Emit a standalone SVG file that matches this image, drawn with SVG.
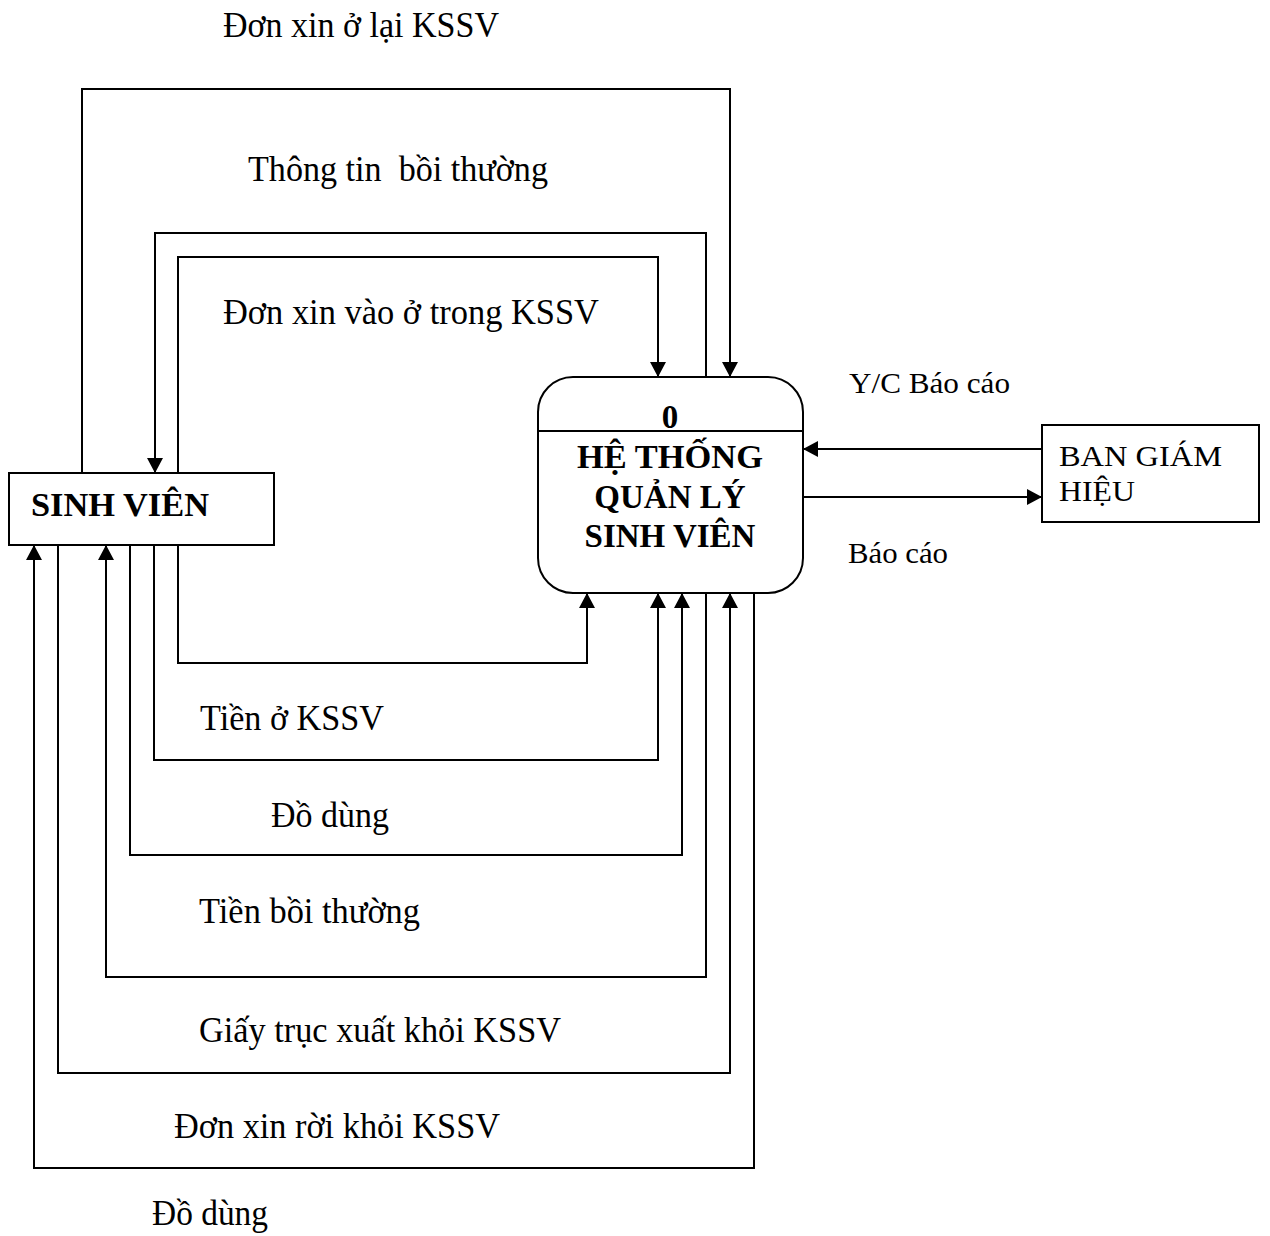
<svg xmlns="http://www.w3.org/2000/svg" width="1270" height="1236" viewBox="0 0 1270 1236">
  <style>
    .line { fill: none; stroke: #000; stroke-width: 2; }
    .box { fill: #fff; stroke: #000; stroke-width: 2; }
    .lbl { font-family: "Liberation Serif", "Times New Roman", serif; font-size: 35px; fill: #000; }
    .lbl-sm { font-family: "Liberation Serif", "Times New Roman", serif; font-size: 30px; fill: #000; }
    .title { font-family: "Liberation Serif", "Times New Roman", serif; font-size: 33px; font-weight: bold; fill: #000; }
  </style>
  <defs>
    <marker id="arrow" markerUnits="userSpaceOnUse" markerWidth="15" markerHeight="16" viewBox="0 0 15 16" refX="15" refY="8" orient="auto">
      <path d="M0,0 L15,8 L0,16 z" fill="#000"/>
    </marker>
  </defs>

  <!-- data flows -->
  <g id="connectors">
    <!-- top flows -->
    <polyline class="line" points="82,473 82,89 730,89 730,377" marker-end="url(#arrow)"/>
    <polyline class="line" points="706,377 706,233 155,233 155,473" marker-end="url(#arrow)"/>
    <polyline class="line" points="178,473 178,257 658,257 658,377" marker-end="url(#arrow)"/>
    <!-- bottom flows -->
    <polyline class="line" points="178,545 178,663 587,663 587,593" marker-end="url(#arrow)"/>
    <polyline class="line" points="154,545 154,760 658,760 658,593" marker-end="url(#arrow)"/>
    <polyline class="line" points="130,545 130,855 682,855 682,593" marker-end="url(#arrow)"/>
    <polyline class="line" points="706,593 706,977 106,977 106,545" marker-end="url(#arrow)"/>
    <polyline class="line" points="58,545 58,1073 730,1073 730,593" marker-end="url(#arrow)"/>
    <polyline class="line" points="754,593 754,1168 34,1168 34,545" marker-end="url(#arrow)"/>
    <!-- management flows -->
    <line class="line" x1="1042" y1="449" x2="803" y2="449" marker-end="url(#arrow)"/>
    <line class="line" x1="803" y1="497" x2="1042" y2="497" marker-end="url(#arrow)"/>
  </g>

  <!-- flow labels -->
  <g id="labels">
    <text class="lbl" x="223" y="37" textLength="276" lengthAdjust="spacingAndGlyphs">Đơn xin ở lại KSSV</text>
    <text class="lbl" x="248" y="181" xml:space="preserve" textLength="300" lengthAdjust="spacingAndGlyphs">Thông tin  bồi thường</text>
    <text class="lbl" x="223" y="324" textLength="376" lengthAdjust="spacingAndGlyphs">Đơn xin vào ở trong KSSV</text>
    <text class="lbl" x="200" y="730" textLength="184" lengthAdjust="spacingAndGlyphs">Tiền ở KSSV</text>
    <text class="lbl" x="271" y="827" textLength="118" lengthAdjust="spacingAndGlyphs">Đồ dùng</text>
    <text class="lbl" x="199" y="923" textLength="221" lengthAdjust="spacingAndGlyphs">Tiền bồi thường</text>
    <text class="lbl" x="199" y="1042" textLength="362" lengthAdjust="spacingAndGlyphs">Giấy trục xuất khỏi KSSV</text>
    <text class="lbl" x="174" y="1138" textLength="326" lengthAdjust="spacingAndGlyphs">Đơn xin rời khỏi KSSV</text>
    <text class="lbl" x="152" y="1225" textLength="116" lengthAdjust="spacingAndGlyphs">Đồ dùng</text>
    <text class="lbl-sm" x="849" y="393" textLength="161" lengthAdjust="spacingAndGlyphs">Y/C Báo cáo</text>
    <text class="lbl-sm" x="848" y="563" textLength="100" lengthAdjust="spacingAndGlyphs">Báo cáo</text>
  </g>

  <!-- external entity: students -->
  <g id="sinh-vien">
    <rect class="box" x="9" y="473" width="265" height="72"/>
    <text class="title" x="31" y="516" textLength="178" lengthAdjust="spacingAndGlyphs">SINH VIÊN</text>
  </g>

  <!-- process 0 -->
  <g id="he-thong">
    <rect class="box" x="538" y="377" width="265" height="216" rx="35" ry="35"/>
    <line class="line" x1="538" y1="431" x2="803" y2="431"/>
    <text class="title" x="670" y="428" text-anchor="middle">0</text>
    <text class="title" x="670" y="468" text-anchor="middle" textLength="186" lengthAdjust="spacingAndGlyphs">HỆ THỐNG</text>
    <text class="title" x="670" y="508" text-anchor="middle">QUẢN LÝ</text>
    <text class="title" x="670" y="547" text-anchor="middle">SINH VIÊN</text>
  </g>

  <!-- external entity: board of directors -->
  <g id="ban-giam-hieu">
    <rect class="box" x="1042" y="425" width="217" height="97"/>
    <text class="lbl-sm" x="1059" y="466" textLength="163" lengthAdjust="spacingAndGlyphs">BAN GIÁM</text>
    <text class="lbl-sm" x="1059" y="501" textLength="76" lengthAdjust="spacingAndGlyphs">HIỆU</text>
  </g>
</svg>
